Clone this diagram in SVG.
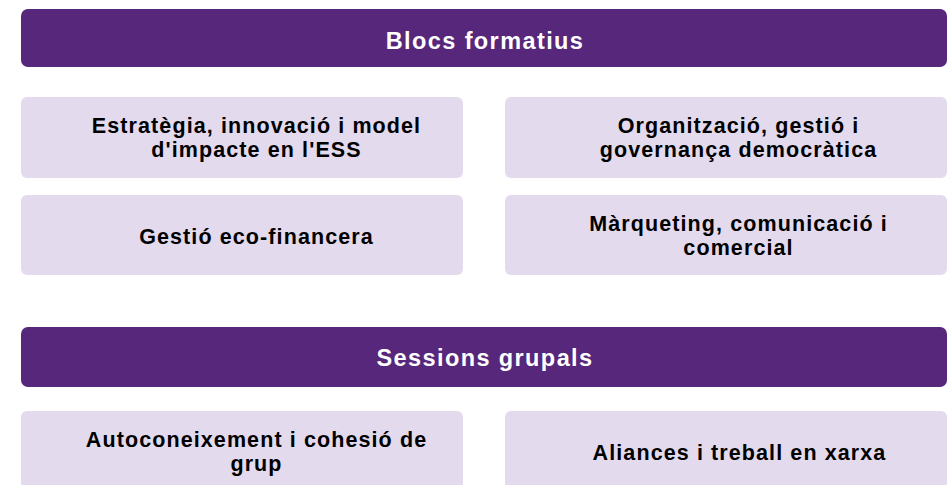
<svg xmlns="http://www.w3.org/2000/svg" width="949" height="485" viewBox="0 0 949 485">
<style>
.hdr{fill:#56277a}
.box{fill:#e3daee}
.ht{font-family:"Liberation Sans",Arial,sans-serif;font-weight:bold;font-size:23.5px;letter-spacing:1.4px;fill:#ffffff;text-anchor:middle}
.bt{font-family:"Liberation Sans",Arial,sans-serif;font-weight:bold;font-size:21.5px;letter-spacing:1.1px;fill:#000000;text-anchor:middle}
</style>
<rect width="949" height="485" fill="#ffffff"/>
<g id="blocs-formatius">
<rect class="hdr" x="21" y="9" width="926" height="58" rx="7"/>
<text class="ht" x="485" y="49">Blocs formatius</text>
</g>
<g id="estrategia">
<rect class="box" x="21" y="97" width="442" height="81" rx="6"/>
<text class="bt" x="256.5" y="133">Estratègia, innovació i model</text>
<text class="bt" x="256.5" y="157">d'impacte en l'ESS</text>
</g>
<g id="organitzacio">
<rect class="box" x="505" y="97" width="442" height="81" rx="6"/>
<text class="bt" x="738.5" y="133">Organització, gestió i</text>
<text class="bt" x="738.5" y="157">governança democràtica</text>
</g>
<g id="gestio">
<rect class="box" x="21" y="195" width="442" height="80" rx="6"/>
<text class="bt" x="256.5" y="244">Gestió eco-financera</text>
</g>
<g id="marqueting">
<rect class="box" x="505" y="195" width="442" height="80" rx="6"/>
<text class="bt" x="738.5" y="231">Màrqueting, comunicació i</text>
<text class="bt" x="738.5" y="255">comercial</text>
</g>
<g id="sessions-grupals">
<rect class="hdr" x="21" y="327" width="926" height="60" rx="7"/>
<text class="ht" x="485" y="366">Sessions grupals</text>
</g>
<g id="autoconeixement">
<rect class="box" x="21" y="411" width="442" height="80" rx="6"/>
<text class="bt" x="256.5" y="447">Autoconeixement i cohesió de</text>
<text class="bt" x="256.5" y="471">grup</text>
</g>
<g id="aliances">
<rect class="box" x="505" y="411" width="442" height="80" rx="6"/>
<text class="bt" x="739.5" y="460">Aliances i treball en xarxa</text>
</g>
<g id="connectors"></g>
</svg>
